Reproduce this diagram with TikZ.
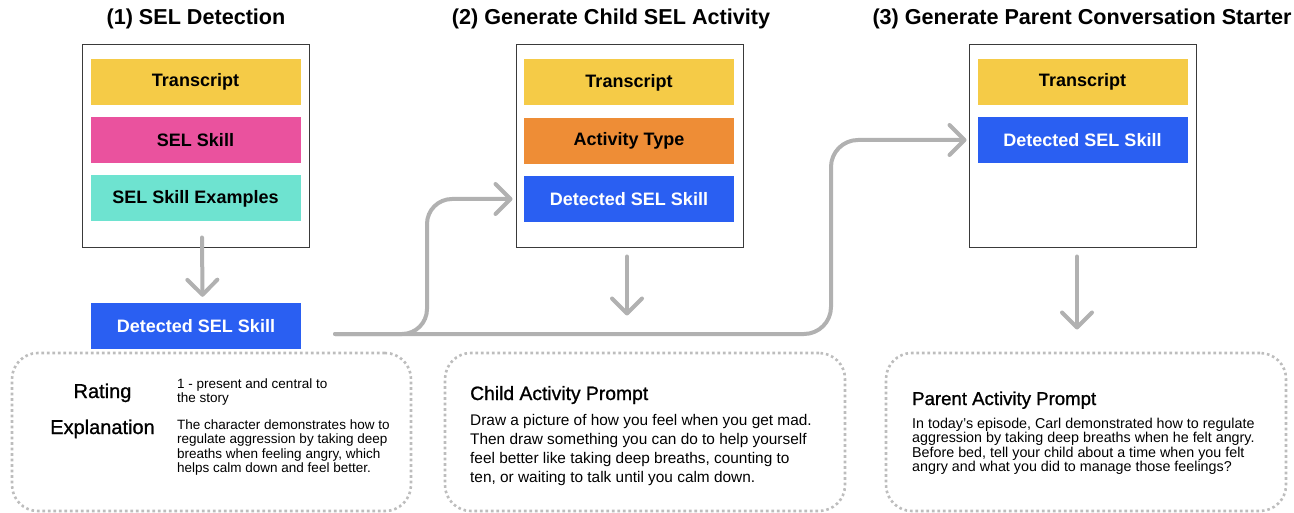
\documentclass[tikz,border=0pt]{standalone}
\usepackage{fontspec}
\setmainfont{Liberation Sans}
\newfontfamily\medfont[FakeBold=1]{Liberation Sans}
\usetikzlibrary{arrows.meta,calc}
\definecolor{cyel}{HTML}{F5CB47}
\definecolor{cpink}{HTML}{EA529E}
\definecolor{cteal}{HTML}{6EE3D0}
\definecolor{corange}{HTML}{EE8D36}
\definecolor{cblue}{HTML}{2A5FF2}
\definecolor{cgray}{HTML}{B1B1B1}
\definecolor{cdot}{HTML}{BDBDBD}
\definecolor{cframe}{HTML}{3A3A3A}
\begin{document}
\begin{tikzpicture}[x=1pt,y=-1pt,
 frame/.style={draw=cframe,line width=1pt,fill=white,minimum width=227pt,minimum height=203pt,inner sep=0pt},
 field/.style={minimum width=210pt,minimum height=46pt,inner sep=0pt,font=\fontsize{18}{20}\selectfont\bfseries},
 title/.style={font=\fontsize{21.6}{24}\selectfont\bfseries},
 dotbox/.style={draw=cdot,line width=2.6pt,dash pattern=on 2.6pt off 2.9pt,rounded corners=26pt,minimum height=158pt,inner sep=0pt},
 conn/.style={draw=cgray,line width=4pt,line cap=round,line join=round,-{Straight Barb[length=15pt,width=30pt,round]}},
 lbl/.style={font=\medfont\fontsize{20}{22}\selectfont},
 txt/.style={anchor=base west,inner sep=0pt},
]
\useasboundingbox (0,0) rectangle (1294,513);

% titles
\node[title] (h1) at (196,19) {(1) SEL Detection};
\node[title] (h2) at (611,19) {(2) Generate Child SEL Activity};
\node[title] (h3) at (1082,19) {(3) Generate Parent Conversation Starter};

% stage 1
\node[frame] (box1) at (195.5,146.5) {};
\node[field,fill=cyel] (t1) at (195.5,82) {Transcript};
\node[field,fill=cpink] (s1) at (195.5,140.5) {SEL Skill};
\node[field,fill=cteal] (e1) at (195.5,198.5) {SEL Skill Examples};
\node[field,fill=cblue,text=white] (det1) at (196,326) {Detected SEL Skill};

% stage 2
\node[frame] (box2) at (629.5,146.5) {};
\node[field,fill=cyel] (t2) at (629,82.5) {Transcript};
\node[field,fill=corange] (a2) at (629,141) {Activity Type};
\node[field,fill=cblue,text=white] (d2) at (629,199) {Detected SEL Skill};

% stage 3
\node[frame] (box3) at (1082.5,146.5) {};
\node[field,fill=cyel] (t3) at (1082.5,82) {Transcript};
\node[field,fill=cblue,text=white] (d3) at (1082.5,140) {Detected SEL Skill};

% dotted output boxes
\node[dotbox,minimum width=399pt] (p1) at (211.5,432) {};
\node[dotbox,minimum width=400pt] (p2) at (645,432) {};
\node[dotbox,minimum width=400pt] (p3) at (1086,432) {};

% box 1 contents
\node[lbl,anchor=base] (rat) at (102.5,398) {Rating};
\node[lbl,anchor=base] (exp) at (102.5,434) {Explanation};
\node[txt] (ratv) at (177,388) {\parbox[t]{220pt}{\fontsize{13.5}{14.5}\selectfont\raggedright
1 - present and central to\\the story}};
\node[txt] (expv) at (177,429) {\parbox[t]{225pt}{\fontsize{13.5}{14.5}\selectfont\raggedright
The character demonstrates how to\\regulate aggression by taking deep\\breaths when feeling angry, which\\helps calm down and feel better.}};

% box 2 contents
\node[txt,font=\medfont\fontsize{19.3}{21}\selectfont] (cap2) at (470,400) {Child Activity Prompt};
\node[txt] (body2) at (470,425) {\parbox[t]{360pt}{\fontsize{15.4}{19}\selectfont\raggedright
Draw a picture of how you feel when you get mad.\\Then draw something you can do to help yourself\\feel better like taking deep breaths, counting to\\ten, or waiting to talk until you calm down.}};

% box 3 contents
\node[txt,font=\medfont\fontsize{18.6}{20}\selectfont] (cap3) at (912,405) {Parent Activity Prompt};
\node[txt] (body3) at (912,428) {\parbox[t]{370pt}{\fontsize{14.3}{14.6}\selectfont\raggedright
In today’s episode, Carl demonstrated how to regulate\\aggression by taking deep breaths when he felt angry.\\Before bed, tell your child about a time when you felt\\angry and what you did to manage those feelings?}};

% connector way points
\coordinate (s) at (335,334);
\coordinate (b1) at (427,334);
\coordinate (b2) at (427,199);
\coordinate (m1) at (831,334);
\coordinate (m2) at (831,140);

% vertical arrows
\draw[conn] ([shift={(6.5,-11)}]box1.south) -- ([shift={(6.5,-6)}]det1.north);
\draw[conn] ([shift={(-2.5,8)}]box2.south) -- ([shift={(-2.5,67)}]box2.south);
\draw[conn] ([shift={(-5.5,8)}]box3.south) -- ([shift={(-5.5,81)}]box3.south);

% branching connectors
\draw[conn,rounded corners=25pt] (s) -- (b1) -- (b2) -- ([xshift=-3pt]box2.west |- d2.center);
\draw[conn,rounded corners=27pt] (s) -- (m1) -- (m2) -- ([xshift=-2pt]box3.west |- d3.center);
\end{tikzpicture}
\end{document}
